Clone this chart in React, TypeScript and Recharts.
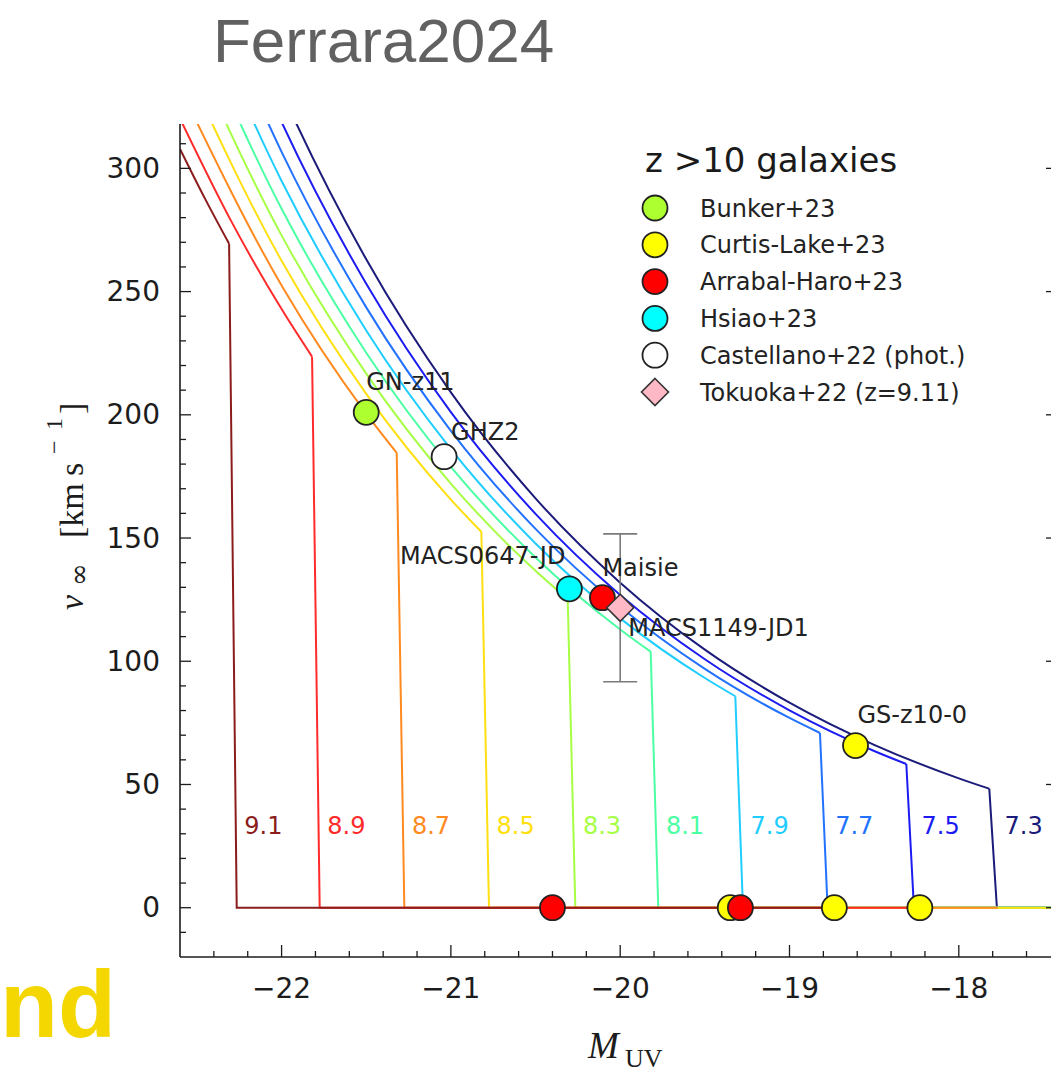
import { ComposedChart, Line, Scatter, XAxis, YAxis, Legend, ErrorBar, ReferenceDot } from "recharts";

type Pt = { M: number; v: number };
type Gal = { M: number; v: number; name?: string; err?: [number, number] };

// v_inf(M_UV) tracks, one per log halo mass: upper branch, drop, then v = 0
const mh73: Pt[] = [
  { M: -22.6, v: 436.7 }, { M: -22, v: 331.3 }, { M: -21.5, v: 263.1 }, { M: -21, v: 209.1 },
  { M: -20.5, v: 166.1 }, { M: -20, v: 131.9 }, { M: -19.5, v: 104.7 }, { M: -19, v: 83.2 },
  { M: -18.5, v: 66.1 }, { M: -18, v: 52.5 }, { M: -17.82, v: 48.3 }, { M: -17.775, v: 0 }, { M: -14.26, v: 0 },
];
const mh75: Pt[] = [
  { M: -22.6, v: 420.2 }, { M: -22, v: 318.8 }, { M: -21.5, v: 253.2 }, { M: -21, v: 201.1 },
  { M: -20.5, v: 159.8 }, { M: -20, v: 126.9 }, { M: -19.5, v: 100.8 }, { M: -19, v: 80.1 },
  { M: -18.5, v: 63.6 }, { M: -18.31, v: 58.3 }, { M: -18.265, v: 0 }, { M: -14.75, v: 0 },
];
const mh77: Pt[] = [
  { M: -22.6, v: 404.3 }, { M: -22, v: 306.7 }, { M: -21.5, v: 243.6 }, { M: -21, v: 193.5 },
  { M: -20.5, v: 153.7 }, { M: -20, v: 122.1 }, { M: -19.5, v: 96.9 }, { M: -19, v: 77.0 },
  { M: -18.82, v: 70.9 }, { M: -18.775, v: 0 }, { M: -15.26, v: 0 },
];
const mh79: Pt[] = [
  { M: -22.6, v: 388.7 }, { M: -22, v: 294.9 }, { M: -21.5, v: 234.2 }, { M: -21, v: 186.1 },
  { M: -20.5, v: 147.8 }, { M: -20, v: 117.4 }, { M: -19.5, v: 93.2 }, { M: -19.32, v: 85.8 },
  { M: -19.275, v: 0 }, { M: -15.76, v: 0 },
];
const mh81: Pt[] = [
  { M: -22.6, v: 373.8 }, { M: -22, v: 283.6 }, { M: -21.5, v: 225.2 }, { M: -21, v: 178.9 },
  { M: -20.5, v: 142.1 }, { M: -20, v: 112.9 }, { M: -19.82, v: 103.9 }, { M: -19.775, v: 0 }, { M: -16.26, v: 0 },
];
const mh83: Pt[] = [
  { M: -22.6, v: 359.6 }, { M: -22, v: 272.8 }, { M: -21.5, v: 216.7 }, { M: -21, v: 172.1 },
  { M: -20.5, v: 136.7 }, { M: -20.31, v: 125.2 }, { M: -20.265, v: 0 }, { M: -16.75, v: 0 },
];
const mh85: Pt[] = [
  { M: -22.6, v: 346.0 }, { M: -22, v: 262.5 }, { M: -21.5, v: 208.5 }, { M: -21, v: 165.6 },
  { M: -20.82, v: 152.5 }, { M: -20.775, v: 0 }, { M: -17.26, v: 0 },
];
const mh87: Pt[] = [
  { M: -22.6, v: 332.8 }, { M: -22, v: 252.5 }, { M: -21.5, v: 200.5 }, { M: -21.32, v: 184.6 },
  { M: -21.275, v: 0 }, { M: -17.77, v: 0 },
];
const mh89: Pt[] = [
  { M: -22.6, v: 320.2 }, { M: -22.3, v: 278.9 }, { M: -22, v: 242.9 }, { M: -21.82, v: 223.6 },
  { M: -21.775, v: 0 }, { M: -18.25, v: 0 },
];
const mh91: Pt[] = [
  { M: -22.6, v: 307.9 }, { M: -22.45, v: 287.4 }, { M: -22.31, v: 269.4 }, { M: -22.265, v: 0 }, { M: -18.75, v: 0 },
];

const haloMasses = ["7.3", "7.5", "7.7", "7.9", "8.1", "8.3", "8.5", "8.7", "8.9", "9.1"];
const massCurves = [mh73, mh75, mh77, mh79, mh81, mh83, mh85, mh87, mh89, mh91];
const massColors: Record<string, string> = {
  "9.1": "#8b1c1c",
  "8.9": "#ff2b2b",
  "8.7": "#ff8a1f",
  "8.5": "#ffdf10",
  "8.3": "#a6ff45",
  "8.1": "#4cffa3",
  "7.9": "#1fcdff",
  "7.7": "#2272ff",
  "7.5": "#1c1cf2",
  "7.3": "#1b1b7a",
};

// observed galaxies
const bunker23: Gal[] = [{ M: -21.5, v: 201, name: "GN-z11" }];
const curtisLake23: Gal[] = [
  { M: -18.61, v: 65.8, name: "GS-z10-0" },
  { M: -19.35, v: 0 },
  { M: -18.735, v: 0 },
  { M: -18.23, v: 0 },
];
const arrabalHaro23: Gal[] = [
  { M: -20.105, v: 125.8, name: "Maisie" },
  { M: -20.4, v: 0 },
  { M: -19.29, v: 0 },
];
const hsiao23: Gal[] = [{ M: -20.3, v: 129.4, name: "MACS0647-JD" }];
const castellano22: Gal[] = [{ M: -21.04, v: 183, name: "GHZ2" }];
const tokuoka22: Gal[] = [{ M: -20.0, v: 121.7, err: [30, 30], name: "MACS1149-JD1" }];

const surveys = [
  { name: "Bunker+23", data: bunker23 },
  { name: "Curtis-Lake+23", data: curtisLake23 },
  { name: "Arrabal-Haro+23", data: arrabalHaro23 },
  { name: "Hsiao+23", data: hsiao23 },
  { name: "Castellano+22 (phot.)", data: castellano22 },
  { name: "Tokuoka+22 (z=9.11)", data: tokuoka22 },
];

const surveyStyle: Record<string, { fill: string; diamond?: boolean }> = {
  "Bunker+23": { fill: "#adff2f" },
  "Curtis-Lake+23": { fill: "#ffff00" },
  "Arrabal-Haro+23": { fill: "#ff0000" },
  "Hsiao+23": { fill: "#00ffff" },
  "Castellano+22 (phot.)": { fill: "#ffffff" },
  "Tokuoka+22 (z=9.11)": { fill: "#ffb8c6", diamond: true },
};

const nameOffsets: Record<string, { dx: number; dy: number; anchor: "start" | "end" }> = {
  "GN-z11": { dx: 0, dy: -22, anchor: "start" },
  GHZ2: { dx: 7, dy: -17, anchor: "start" },
  "MACS0647-JD": { dx: -4, dy: -25, anchor: "end" },
  Maisie: { dx: 0, dy: -22, anchor: "start" },
  "MACS1149-JD1": { dx: 8, dy: 28, anchor: "start" },
  "GS-z10-0": { dx: 2, dy: -23, anchor: "start" },
};

const xMajorTicks = [-22, -21, -20, -19, -18];
const xMinorTicks = [
  -22.4, -22.2, -21.8, -21.6, -21.4, -21.2, -20.8, -20.6, -20.4, -20.2,
  -19.8, -19.6, -19.4, -19.2, -18.8, -18.6, -18.4, -18.2, -17.8, -17.6,
];
const yMajorTicks = [0, 50, 100, 150, 200, 250, 300];
const yMinorTicks = [
  -10, 10, 20, 30, 40, 60, 70, 80, 90, 110, 120, 130, 140, 160, 170, 180, 190,
  210, 220, 230, 240, 260, 270, 280, 290, 310,
];

const SANS = "'DejaVu Sans', sans-serif";
const SERIF = "'Liberation Serif', 'DejaVu Serif', serif";
const HEAD = "'Liberation Sans', Arial, sans-serif";
const INK = "#1c1c1c";

const fmt = (n: number) => (n < 0 ? `\u2212${Math.abs(n)}` : String(n));

function XTick({ x, y, payload }: any) {
  const major = xMajorTicks.includes(payload.value);
  return (
    <g>
      <line x1={x} x2={x} y1={y} y2={y - (major ? 12 : 6)} stroke={INK} strokeWidth={1.3} />
      {major && (
        <text x={x} y={y + 41} textAnchor="middle" fontFamily={SANS} fontSize={28} fill={INK}>
          {fmt(payload.value)}
        </text>
      )}
    </g>
  );
}

function YTick({ x, y, payload }: any) {
  const major = yMajorTicks.includes(payload.value);
  return (
    <g>
      <line x1={x} x2={x + (major ? 11 : 6)} y1={y} y2={y} stroke={INK} strokeWidth={1.3} />
      {major && (
        <text x={x - 20} y={y + 9.5} textAnchor="end" fontFamily={SANS} fontSize={28} fill={INK}>
          {fmt(payload.value)}
        </text>
      )}
    </g>
  );
}

function RightTick({ x, y, payload }: any) {
  const major = yMajorTicks.includes(payload.value);
  return <line x1={x} x2={x - (major ? 11 : 6)} y1={y} y2={y} stroke={INK} strokeWidth={1.3} />;
}

function YTitle({ viewBox }: any) {
  const x = (viewBox?.x ?? 179) - 96;
  const y = (viewBox?.y ?? 124) + 486;
  return (
    <g transform={`translate(${x},${y}) rotate(-90)`} fill={INK}>
      <text x={0} y={0} fontFamily={SERIF} fontSize={34} fontStyle="italic">v</text>
      <text x={24} y={5} fontFamily="'DejaVu Serif', serif" fontSize={27}>∞</text>
      <text x={72} y={0} fontFamily={SERIF} fontSize={34}>[km</text>
      <text x={134} y={0} fontFamily={SERIF} fontSize={34}>s</text>
      <text x={156} y={-21} fontFamily={SERIF} fontSize={24}>−</text>
      <text x={180} y={-21} fontFamily={SERIF} fontSize={24}>1</text>
      <text x={196} y={0} fontFamily={SERIF} fontSize={34}>]</text>
    </g>
  );
}

function XTitle({ viewBox }: any) {
  const x = (viewBox?.x ?? 180) + 408;
  const y = (viewBox?.y ?? 957) + 101;
  return (
    <g fill={INK}>
      <text x={x} y={y} fontFamily={SERIF} fontStyle="italic" fontSize={37}>
        M
      </text>
      <text x={x + 37} y={y + 9} fontFamily={SERIF} fontSize={26}>
        UV
      </text>
    </g>
  );
}

function GalaxyMarker(props: any) {
  const { cx, cy, payload, surveyName } = props;
  const st = surveyStyle[surveyName];
  const off = payload?.name ? nameOffsets[payload.name] : undefined;
  const s = 13.5;
  return (
    <g>
      {st.diamond ? (
        <polygon
          points={`${cx},${cy - s} ${cx + s},${cy} ${cx},${cy + s} ${cx - s},${cy}`}
          fill={st.fill}
          stroke="#333"
          strokeWidth={1.6}
        />
      ) : (
        <circle cx={cx} cy={cy} r={12.5} fill={st.fill} stroke="#222" strokeWidth={1.8} />
      )}
      {off && (
        <text x={cx + off.dx} y={cy + off.dy} textAnchor={off.anchor} fontFamily={SANS} fontSize={24} fill="#222">
          {payload.name}
        </text>
      )}
    </g>
  );
}

function SurveyLegend({ payload }: any) {
  const present = new Set((payload ?? []).map((p: any) => p.value));
  const names = surveys.map((s) => s.name).filter((n) => present.has(n));
  return (
    <svg width={420} height={280} style={{ display: "block" }}>
      <text x={15} y={42} fontFamily={SANS} fontSize={34} fill="#1a1a1a">
        z &gt;10 galaxies
      </text>
      {names.map((n, i) => {
        const st = surveyStyle[n];
        const cy = 78 + i * 36.8;
        const s = 13.5;
        return (
          <g key={n}>
            {st.diamond ? (
              <polygon
                points={`25,${cy - s} ${25 + s},${cy} 25,${cy + s} ${25 - s},${cy}`}
                fill={st.fill}
                stroke="#333"
                strokeWidth={1.6}
              />
            ) : (
              <circle cx={25} cy={cy} r={12.5} fill={st.fill} stroke="#222" strokeWidth={1.8} />
            )}
            <text x={70} y={cy + 8.5} fontFamily={SANS} fontSize={24} fill="#222">
              {n}
            </text>
          </g>
        );
      })}
    </svg>
  );
}

function MassLabel({ cx, cy, mass }: any) {
  return (
    <text x={cx} y={cy} fontFamily={SANS} fontSize={24} fill={massColors[mass]}>
      {mass}
    </text>
  );
}

// split a track into its smooth upper branch and the straight drop + floor
function splitTrack(pts: Pt[]) {
  const k = pts.findIndex((p, j) => p.v > 0 && pts[j + 1]?.v === 0);
  return { upper: pts.slice(0, k + 1), lower: pts.slice(k), drop: pts[k] };
}

export default function App() {
  const xTicks = [...xMajorTicks, ...xMinorTicks].sort((a, b) => a - b);
  const yTicks = [...yMajorTicks, ...yMinorTicks].sort((a, b) => a - b);
  const tracks = massCurves.map(splitTrack);

  return (
    <div style={{ position: "fixed", left: 0, top: 0, width: 1051, height: 1072, overflow: "hidden", background: "#fff" }}>
      <svg width={1051} height={1072} style={{ position: "absolute", left: 0, top: 0 }}>
        <text x={213} y={62} fontFamily={HEAD} fontSize={62} fill="#616161">
          Ferrara2024
        </text>
        <text x={0} y={1037} fontFamily={HEAD} fontWeight={700} fontSize={95} fill="#f4d600">
          nd
        </text>
      </svg>
      <div style={{ position: "absolute", left: 0, top: 0 }}>
        <ComposedChart width={1100} height={1072} margin={{ top: 124, right: 42, bottom: 114, left: 179 }}>
          <XAxis
            type="number"
            dataKey="M"
            domain={[-22.6, -17.42]}
            allowDataOverflow
            ticks={xTicks}
            interval={0}
            height={1}
            tickSize={0}
            tickMargin={0}
            tickLine={false}
            tick={<XTick />}
            axisLine={{ stroke: INK, strokeWidth: 1.6 }}
            label={<XTitle />}
          />
          <YAxis
            type="number"
            dataKey="v"
            domain={[-20, 318]}
            allowDataOverflow
            ticks={yTicks}
            interval={0}
            width={1}
            tickSize={0}
            tickMargin={0}
            tickLine={false}
            tick={<YTick />}
            axisLine={{ stroke: INK, strokeWidth: 1.6 }}
            label={<YTitle />}
          />
          <YAxis
            yAxisId="right"
            orientation="right"
            type="number"
            domain={[-20, 318]}
            allowDataOverflow
            ticks={yTicks}
            interval={0}
            width={1}
            tickSize={0}
            tickMargin={0}
            tickLine={false}
            tick={<RightTick />}
            axisLine={{ stroke: INK, strokeWidth: 1.6 }}
          />
          {tracks.map((t, i) => [
            <Line
              key={`up-${haloMasses[i]}`}
              data={t.upper}
              dataKey="v"
              type="monotone"
              stroke={massColors[haloMasses[i]]}
              strokeWidth={2}
              dot={false}
              activeDot={false}
              legendType="none"
              isAnimationActive={false}
            />,
            <Line
              key={`lo-${haloMasses[i]}`}
              data={t.lower}
              dataKey="v"
              type="linear"
              stroke={massColors[haloMasses[i]]}
              strokeWidth={2}
              dot={false}
              activeDot={false}
              legendType="none"
              isAnimationActive={false}
            />,
          ])}
          {tracks.map((t, i) => (
            <ReferenceDot
              key={`lbl-${haloMasses[i]}`}
              x={t.drop.M + 0.09}
              y={30}
              r={0}
              ifOverflow="visible"
              shape={(p: any) => <MassLabel {...p} mass={haloMasses[i]} />}
            />
          ))}
          {surveys.map((s) => (
            <Scatter
              key={s.name}
              name={s.name}
              data={s.data}
              dataKey="v"
              fill={surveyStyle[s.name].fill}
              isAnimationActive={false}
              shape={(p: any) => <GalaxyMarker {...p} surveyName={s.name} />}
            >
              {s.data.some((d) => d.err) && (
                <ErrorBar dataKey="err" direction="y" width={17} stroke="#7a7a7a" strokeWidth={1.6} />
              )}
            </Scatter>
          ))}
          <Legend
            layout="vertical"
            align="center"
            verticalAlign="middle"
            content={<SurveyLegend />}
            wrapperStyle={{ left: 630, top: 130, width: 420 }}
          />
        </ComposedChart>
      </div>
    </div>
  );
}
